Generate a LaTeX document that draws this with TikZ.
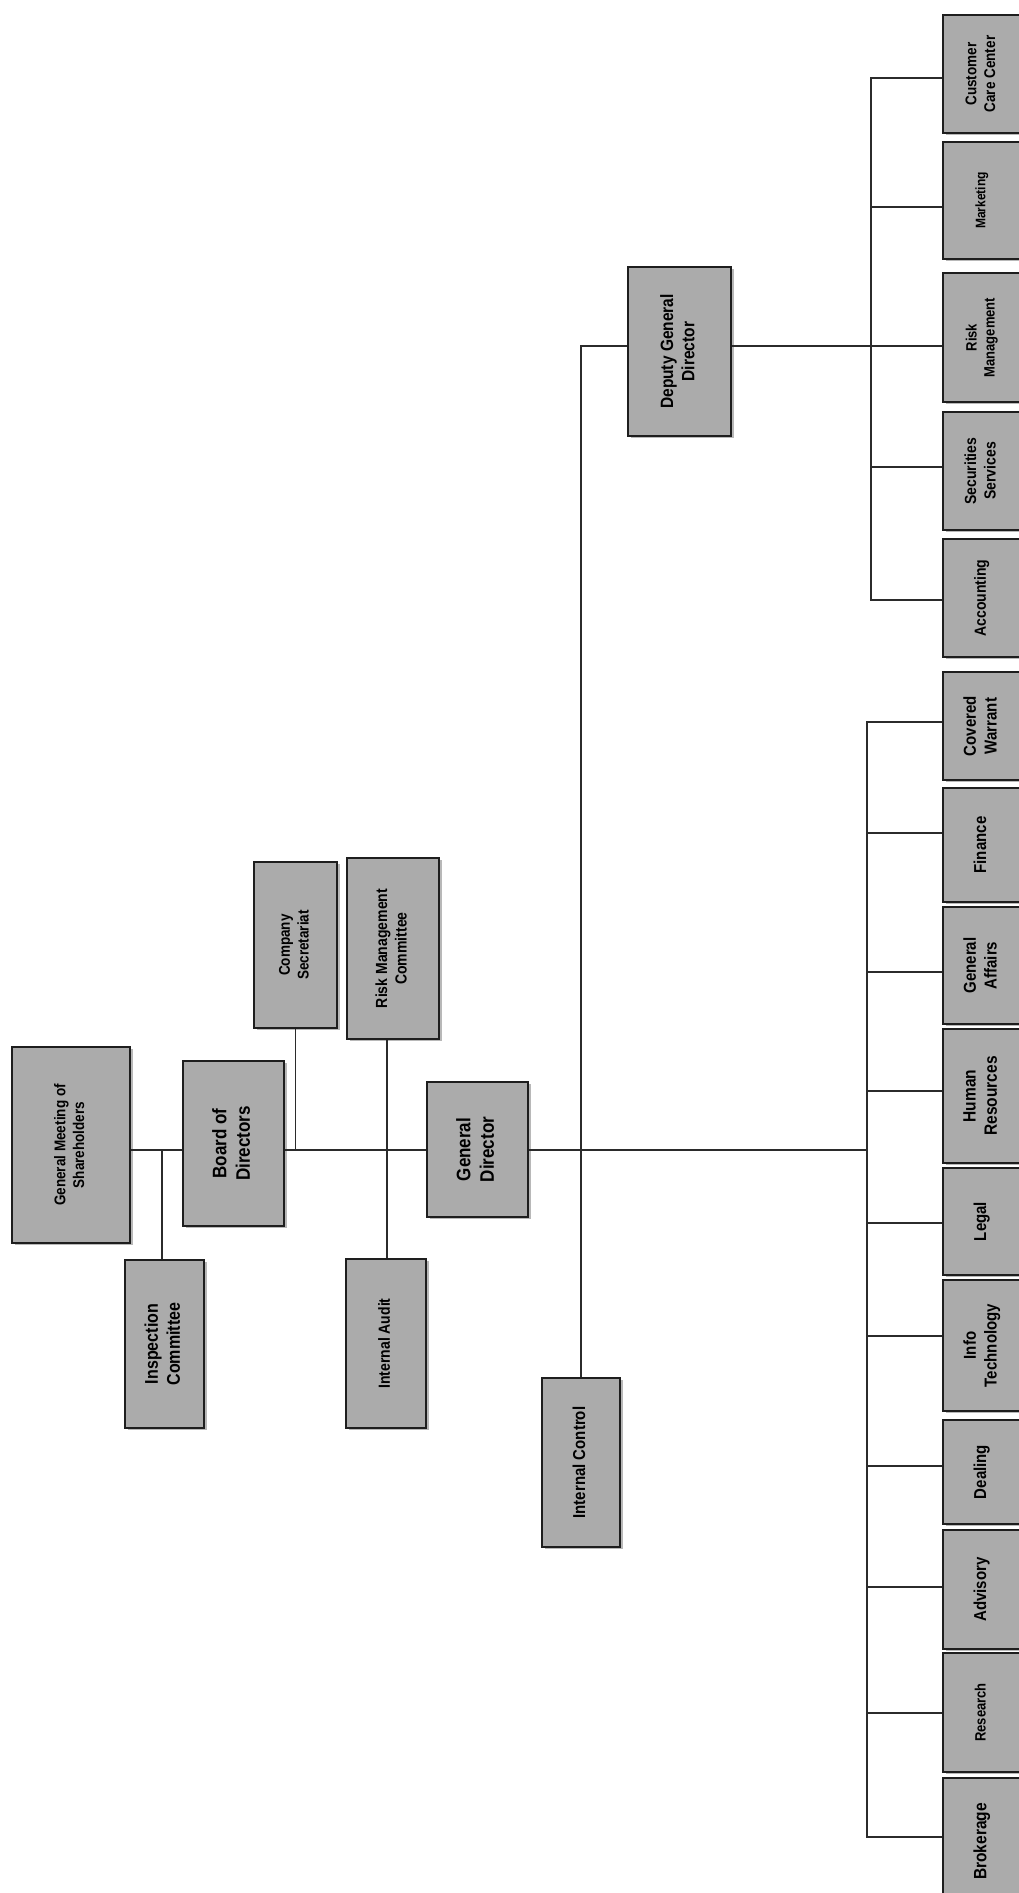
\documentclass[tikz,border=0pt]{standalone}
\usepackage{fontspec}
\setmainfont{Liberation Sans}
\usepackage{graphicx}
\usetikzlibrary{shadows}
\definecolor{boxfill}{HTML}{ABABAB}
\definecolor{boxline}{HTML}{1E1E1E}
\definecolor{conncol}{HTML}{2B2B2B}
\tikzset{
  orgbox/.style={draw=boxline, line width=1.8pt, fill=boxfill, inner sep=0pt,
    drop shadow={shadow xshift=2.5pt, shadow yshift=-2pt, opacity=0.28, fill=black}},
  link/.style={draw=conncol, line width=1.6pt},
}
% name, x1, y1, x2, y2, font size, text
\newcommand{\orgnode}[7]{%
  \node[orgbox, minimum width={(#4-#2)*1pt}, minimum height={(#5-#3)*1pt}]
    (#1) at ({(#2+#4)/2},{(#3+#5)/2})
    {\rotatebox{90}{\scalebox{0.87}[1]{\fontsize{\fpeval{#6*1.15}}{\fpeval{#6*1.15*1.2}}\selectfont\bfseries
      \begin{tabular}{@{}c@{}}#7\end{tabular}}}};}
\begin{document}
\begin{tikzpicture}[x=1pt,y=-1pt]
\clip (0,0) rectangle (1019,1893);
\fill[white] (0,0) rectangle (1019,1893);

% upper structure
\orgnode{gm}{12}{1047}{130}{1243}{13.5}{General Meeting of\\Shareholders}
\orgnode{ins}{125}{1260}{204}{1428}{16}{Inspection\\Committee}
\orgnode{bod}{183}{1061}{284}{1226}{17}{Board of\\Directors}
\orgnode{cs}{254}{862}{337}{1028}{13.5}{Company\\Secretariat}
\orgnode{rmc}{347}{858}{439}{1039}{14}{Risk Management\\Committee}
\orgnode{ia}{346}{1259}{426}{1428}{14}{Internal Audit}
\orgnode{gd}{427}{1082}{528}{1217}{17}{General\\Director}
\orgnode{ic}{542}{1378}{620}{1547}{15}{Internal Control}
\orgnode{dgd}{628}{267}{731}{436}{15.5}{Deputy General\\Director}

% right column (under Deputy General Director)
\orgnode{ccc}{943}{15}{1021}{133}{13.5}{Customer\\Care Center}
\orgnode{mkt}{943}{142}{1021}{259}{12}{Marketing}
\orgnode{rm}{943}{273}{1021}{402}{13}{Risk\\Management}
\orgnode{ss}{943}{412}{1021}{530}{14}{Securities\\Services}
\orgnode{acc}{943}{539}{1021}{657}{14}{Accounting}

% right column (under General Director)
\orgnode{cw}{943}{672}{1021}{780}{15}{Covered\\Warrant}
\orgnode{fin}{943}{788}{1021}{902}{15}{Finance}
\orgnode{ga}{943}{907}{1021}{1024}{15}{General\\Affairs}
\orgnode{hr}{943}{1029}{1021}{1163}{15.5}{Human\\Resources}
\orgnode{leg}{943}{1168}{1021}{1275}{15}{Legal}
\orgnode{it}{943}{1280}{1021}{1411}{15}{Info\\Technology}
\orgnode{dea}{943}{1420}{1021}{1524}{15}{Dealing}
\orgnode{adv}{943}{1530}{1021}{1649}{15}{Advisory}
\orgnode{res}{943}{1653}{1021}{1772}{13}{Research}
\orgnode{brk}{943}{1778}{1021}{1905}{15.5}{Brokerage}

% connectors
\coordinate (hMain) at (300,1150);
\coordinate (jIns) at (162,1150);
\coordinate (xRisk) at (387,0);
\coordinate (hD) at (0,346);

\draw[link] (gm.east |- hMain) -- (bod.west |- hMain);
\draw[link] (jIns) -- (ins.north -| jIns);
\draw[link] (bod.east |- hMain) -- (gd.west |- hMain);
\draw[link] (cs.south) -- (cs.south |- hMain);
\draw[link] (rmc.south -| xRisk) -- (ia.north -| xRisk);
\draw[link] (gd.east |- hMain) -- (867,1150);

% left bus
\draw[link] (cw.west |- 0,722) -- (867,722) -- (867,1837) -- (brk.west |- 0,1837);
\foreach \n/\yy in {fin/833, ga/972, hr/1091, leg/1223, it/1336, dea/1466, adv/1587, res/1713}
  \draw[link] (867,\yy) -- (\n.west |- 0,\yy);

% deputy general director
\draw[link] (ic.north) -- (ic.north |- hD) -- (dgd.west |- hD);
\draw[link] (dgd.east |- hD) -- (rm.west |- hD);

% right bus
\draw[link] (ccc.west |- 0,78) -- (871,78) -- (871,600) -- (acc.west |- 0,600);
\foreach \n/\yy in {mkt/207, ss/467}
  \draw[link] (871,\yy) -- (\n.west |- 0,\yy);
\end{tikzpicture}
\end{document}
